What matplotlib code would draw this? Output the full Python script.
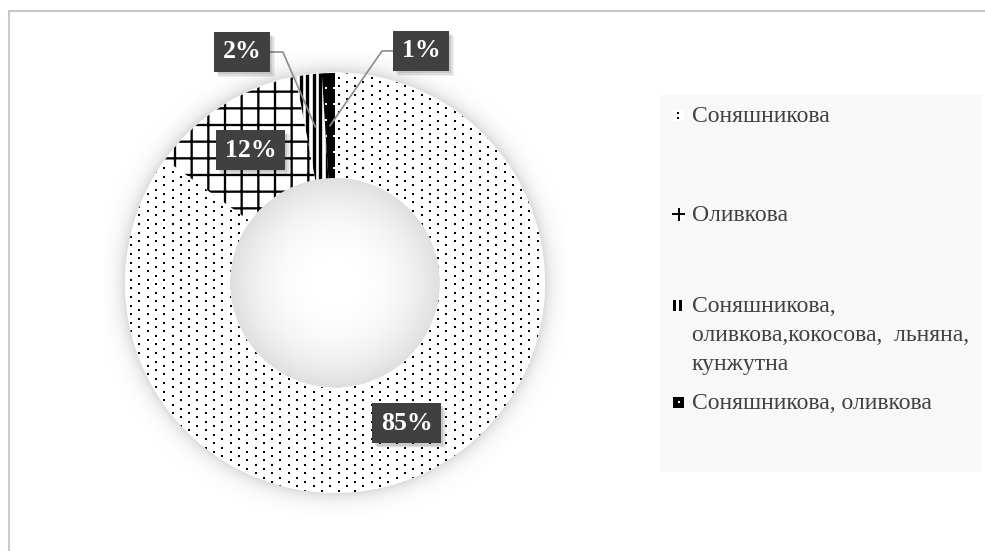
import numpy as np
import matplotlib
matplotlib.use("Agg")
import matplotlib.pyplot as plt
from matplotlib.patches import Rectangle
from matplotlib.transforms import IdentityTransform

# --- data ---------------------------------------------------------------
categories = [
    "Соняшникова",
    "Оливкова",
    "Соняшникова,\nоливкова,кокосова,  льняна,\nкунжутна",
    "Соняшникова, оливкова",
]
shares = [85, 12, 2, 1]
pct_labels = ["85%", "12%", "2%", "1%"]

# --- figure geometry (pixels) --------------------------------------------
W, H, DPI = 985, 551, 100
CX, CY, R = 335, 283, 210          # donut centre / outer radius in px
LIM = 1.1

plt.rcParams["hatch.linewidth"] = 1.65

fig = plt.figure(figsize=(W / DPI, H / DPI), dpi=DPI)
fig.patch.set_facecolor("white")

# pixel-space layer for frame and legend
bg = fig.add_axes([0, 0, 1, 1], zorder=0)
bg.set_xlim(0, W)
bg.set_ylim(H, 0)
bg.axis("off")
bg.plot([8, W], [11, 11], color="#c8c8c8", lw=1.5, solid_capstyle="butt")
bg.plot([9, 9], [10, H], color="#c8c8c8", lw=1.5, solid_capstyle="butt")

# --- donut ----------------------------------------------------------------
ax = fig.add_axes([(CX - LIM * R) / W, (H - CY - LIM * R) / H,
                   2 * LIM * R / W, 2 * LIM * R / H], zorder=1)

# soft shadow around the ring and inside the hole
n = 700
g = np.linspace(-LIM, LIM, n)
X, Y = np.meshgrid(g, g)
rr = np.hypot(X, Y)
alpha = np.zeros_like(rr)
outer = rr > 1.0
alpha[outer] = 0.15 * np.exp(-(rr[outer] - 1.0) / 0.04)
hole = rr < 0.5
alpha[hole] = 0.13 * (rr[hole] / 0.5) ** 2.5
shade = np.zeros((n, n, 4))
shade[..., 3] = alpha
ax.imshow(shade, extent=(-LIM, LIM, -LIM, LIM), origin="lower",
          interpolation="bilinear", zorder=0)

wedges, _ = ax.pie(
    shares, radius=1.0, startangle=90, counterclock=False,
    colors=["white", "white", "white", "black"],
    wedgeprops=dict(width=0.5, linewidth=0, edgecolor="black"),
)
for w in wedges:
    w.set_zorder(2)

# cross-hatch for the olive share
wedges[1].set_hatch("+")

# dotted texture for the sunflower share
sx, sy = 16.6 / R, 4.3 / R
pts = []
for i, y in enumerate(np.arange(-1.05, 1.05, sy)):
    for x in np.arange(-1.05 + (i % 2) * sx / 2, 1.05, sx):
        pts.append((x, y))
pts = np.array(pts)
dots = ax.scatter(pts[:, 0], pts[:, 1], s=2.6, marker="s", c="black",
                  linewidths=0, zorder=3)
dots.set_clip_path(wedges[0])

# vertical stripes for the mixed share
stripe_x = np.arange(-1.0, 1.0, 6.5 / R)
stripes = ax.vlines(stripe_x, -1.05, 1.05, colors="black", lw=2.4, zorder=3)
stripes.set_clip_path(wedges[2])

# white dots on the black share
wpts = []
for y in np.arange(-1.05, 1.05, 16.0 / R):
    for x in np.arange(-1.05 + 0.02, 1.05, 8.3 / R):
        wpts.append((x, y))
wpts = np.array(wpts)
wdots = ax.scatter(wpts[:, 0], wpts[:, 1], s=2.6, marker="s", c="white",
                   linewidths=0, zorder=3)
wdots.set_clip_path(wedges[3])

ax.set_xlim(-LIM, LIM)
ax.set_ylim(-LIM, LIM)
ax.axis("off")

# --- value labels -----------------------------------------------------------
label_kw = dict(ha="center", va="center", fontsize=18.5, fontweight="bold",
                family="Liberation Serif", zorder=8, color="white")
BOX = "square,pad=0.33"
value_texts = []


def value_box(x, y, text):
    t = ax.text(x, y, text,
                bbox=dict(boxstyle=BOX, fc="#404040", ec="none"), **label_kw)
    value_texts.append(t)


def mid_point(w, r=0.75):
    a = np.deg2rad((w.theta1 + w.theta2) / 2)
    return r * np.cos(a), r * np.sin(a)


# labels inside the ring
for i in (0, 1):
    value_box(*mid_point(wedges[i]), pct_labels[i])

# small shares: labels outside with leader lines
outside = {2: ((-0.443, 1.100), (-0.248, 1.100)),
           3: ((0.410, 1.105), (0.224, 1.105))}
for i, (pos, elbow) in outside.items():
    ax_, ay_ = mid_point(wedges[i])
    ax.plot([ax_, elbow[0], pos[0]], [ay_, elbow[1], pos[1]],
            color="#8c8c8c", lw=1.2, zorder=5, clip_on=False)
    value_box(pos[0], pos[1], pct_labels[i])

# --- legend (pixel coordinates) ---------------------------------------------
bg.add_patch(Rectangle((660, 95), 322, 377, fc="#f8f8f8", ec="none"))
legend_y = [115, 214, 305, 402]
LINE_PITCH = 29
leg_kw = dict(fontsize=17, family="Liberation Serif", color="#404040",
              va="baseline", ha="left")
for lab, yc in zip(categories, legend_y):
    for k, line in enumerate(lab.split("\n")):
        bg.text(692, yc + 7 + k * LINE_PITCH, line, **leg_kw)

mx, ms = 673, 11
# sunflower marker: white square with dots
y0 = legend_y[0] - ms / 2
bg.add_patch(Rectangle((mx, y0), ms, ms, fc="white", ec="none"))
bg.scatter([mx + 5, mx + 5], [legend_y[0] - 2, legend_y[0] + 3], s=2.2,
           marker="s", c="black", linewidths=0)
# olive marker: plus
y1 = legend_y[1]
bg.add_patch(Rectangle((mx, y1 - ms / 2), ms, ms, fc="white", ec="none"))
bg.plot([mx, mx + ms], [y1, y1], color="black", lw=1.4)
bg.plot([mx + ms / 2, mx + ms / 2], [y1 - ms / 2, y1 + ms / 2],
        color="black", lw=1.4)
# mixed marker: two bars
y2 = legend_y[2]
bg.add_patch(Rectangle((mx, y2 - ms / 2), ms, ms, fc="white", ec="none"))
bg.add_patch(Rectangle((mx, y2 - ms / 2), 3, ms, fc="black", ec="none"))
bg.add_patch(Rectangle((mx + 5.5, y2 - ms / 2), 3, ms, fc="black", ec="none"))
# sunflower+olive marker: black square with white dot
y3 = legend_y[3]
bg.add_patch(Rectangle((mx, y3 - ms / 2), ms, ms, fc="black", ec="none"))
bg.add_patch(Rectangle((mx + 4.5, y3 - 1), 2.2, 2.2, fc="white", ec="none"))

# soft drop shadows behind the value boxes
fig.canvas.draw()
renderer = fig.canvas.get_renderer()
for t in value_texts:
    bb = t.get_bbox_patch().get_window_extent(renderer)
    for d, a in [(5, 0.05), (4, 0.07), (2.5, 0.10)]:
        ax.add_patch(Rectangle((bb.x0 + d, bb.y0 - d), bb.width, bb.height,
                               transform=IdentityTransform(), fc=(0, 0, 0, a),
                               ec="none", zorder=7, clip_on=False))

fig.savefig("out.png", dpi=DPI)
